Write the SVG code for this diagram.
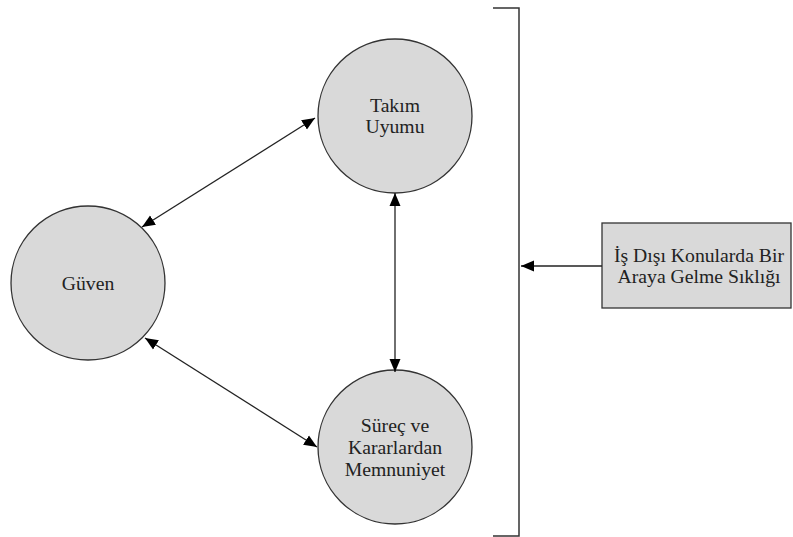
<svg xmlns="http://www.w3.org/2000/svg" width="793" height="537" viewBox="0 0 793 537">
<style>
.node{fill:#d9d9d9;stroke:#333;stroke-width:1.3}
.lbl{font-family:"Liberation Serif","Times New Roman",serif;font-size:19.7px;fill:#222;text-anchor:middle}
.conn{stroke:#222;stroke-width:1.3;fill:none}
</style>
<defs>
<marker id="ah" markerUnits="userSpaceOnUse" markerWidth="14" markerHeight="12" refX="13" refY="6" orient="auto-start-reverse">
<path d="M0,0.5 L13,6 L0,11.5 z" fill="#000"/>
</marker>
</defs>
<rect width="793" height="537" fill="#fff"/>
<g id="takim">
<circle class="node" cx="395" cy="116" r="77"/>
<text class="lbl" x="395" y="112">Takım</text>
<text class="lbl" x="395" y="133">Uyumu</text>
</g>
<g id="guven">
<circle class="node" cx="88" cy="283" r="77"/>
<text class="lbl" x="88" y="290">Güven</text>
</g>
<g id="surec">
<circle class="node" cx="395" cy="447" r="77"/>
<text class="lbl" x="395" y="432">Süreç ve</text>
<text class="lbl" x="395" y="454">Kararlardan</text>
<text class="lbl" x="395" y="476">Memnuniyet</text>
</g>
<g id="is-disi">
<rect class="node" x="602" y="223" width="189" height="85"/>
<text class="lbl" x="699" y="262">İş Dışı Konularda Bir</text>
<text class="lbl" x="699" y="283">Araya Gelme Sıklığı</text>
</g>
<g id="bracket">
<path d="M493,8 H519 V536 H493" fill="none" stroke="#333" stroke-width="1.5"/>
</g>
<g id="connectors">
<line class="conn" x1="142" y1="227" x2="315" y2="118" marker-start="url(#ah)" marker-end="url(#ah)"/>
<line class="conn" x1="145" y1="338" x2="317" y2="447" marker-start="url(#ah)" marker-end="url(#ah)"/>
<line class="conn" x1="395" y1="193" x2="395" y2="372" marker-start="url(#ah)" marker-end="url(#ah)"/>
<line class="conn" x1="602" y1="266" x2="521" y2="266" marker-end="url(#ah)"/>
</g>
</svg>
